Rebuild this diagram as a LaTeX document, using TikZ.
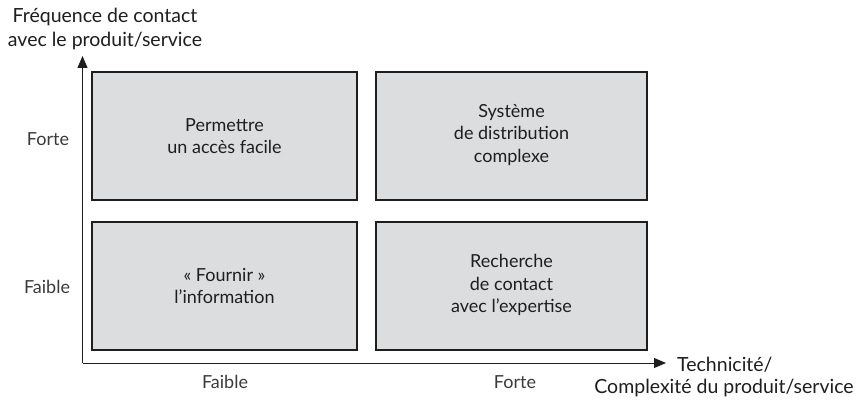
\documentclass[tikz,border=0pt]{standalone}
\usepackage{fontspec}
\setmainfont{Lato}
\usetikzlibrary{arrows.meta}
\definecolor{boxfill}{HTML}{DCDDDF}
\definecolor{ink}{HTML}{1E1E1E}
\definecolor{tickink}{HTML}{3A3A3A}
\tikzset{
  quad/.style={draw=ink, line width=1.1pt, fill=boxfill},
  qtext/.style={align=center, text=ink, font=\fontsize{18}{22.5}\selectfont},
  lbl/.style={text=ink, font=\fontsize{19.5}{24}\selectfont, inner sep=0pt},
  tick/.style={text=tickink, font=\fontsize{18}{22}\selectfont, inner sep=0pt},
  axis/.style={draw=ink, line width=1pt, -{Triangle[length=12pt,width=10pt]}}
}
\begin{document}
\begin{tikzpicture}[x=1pt,y=-1pt]
\useasboundingbox (0,0) rectangle (859,401);
% axes
\coordinate (O) at (82.5,363);
\coordinate (Ytip) at (82.5,56);
\coordinate (Xtip) at (666,363);
\draw[axis] (O) -- (Ytip);
\draw[axis] (O) -- (Xtip);
% boxes
\draw[quad] (92,72) rectangle (357,200);
\draw[quad] (376,72) rectangle (647,200);
\draw[quad] (92,222) rectangle (357,350);
\draw[quad] (376,222) rectangle (647,350);
\node[qtext] (tl) at (224.5,136) {Permettre\\un accès facile};
\node[qtext] (tr) at (511.5,135) {Système\\de distribution\\complexe};
\node[qtext] (bl) at (224.5,286) {«~Fournir~»\\l’information};
\node[qtext] (br) at (511.5,285) {Recherche\\de contact\\avec l’expertise};
% axis labels
\node[lbl] (ylab1) at (105,17) {Fréquence de contact};
\node[lbl] (ylab2) at (105,41) {avec le produit/service};
\node[tick] (forteY) at (48,139) {Forte};
\node[tick] (faibleY) at (47,287) {Faible};
\node[tick] (faibleX) at (225,382) {Faible};
\node[tick] (forteX) at (515,382) {Forte};
\node[lbl, anchor=west] (xlab1) at (677,365) {Technicité/};
\node[lbl] (xlab2) at (724,388) {Complexité du produit/service};
\end{tikzpicture}
\end{document}
